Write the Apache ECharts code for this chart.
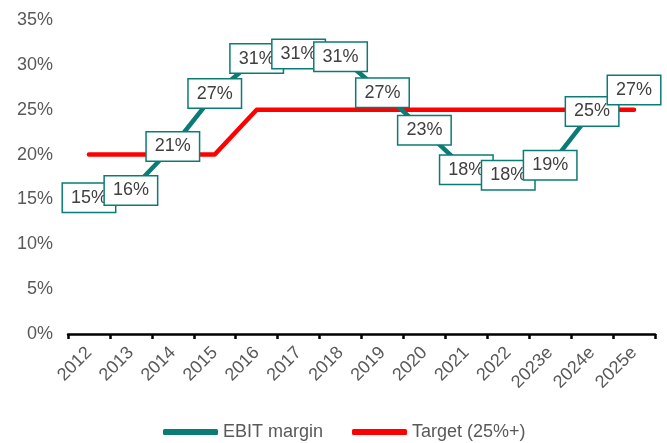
<!DOCTYPE html>
<html>
<head>
<meta charset="utf-8">
<script src="https://cdn.jsdelivr.net/npm/echarts@6/dist/echarts.min.js"></script>
<style>
  html, body { margin: 0; padding: 0; background: #fff; }
  #chart { width: 667px; height: 443px; }
</style>
</head>
<body>
<div id="chart"></div>
<script>
  const years = ['2012', '2013', '2014', '2015', '2016', '2017', '2018', '2019', '2020', '2021', '2022', '2023e', '2024e', '2025e']
  const ebitMargin = [15.2, 16.0, 20.9, 26.8, 30.7, 31.2, 30.9, 26.9, 22.7, 18.3, 17.7, 18.8, 24.8, 27.2]
  const target = [20, 20, 20, 20, 25, 25, 25, 25, 25, 25, 25, 25, 25, 25]
  const yTicks = [0, 5, 10, 15, 20, 25, 30, 35]

  const teal = '#0B7B76'
  const red = '#FF0000'
  const font = 'Liberation Sans, Arial, sans-serif'

  const myChart = echarts.init(document.getElementById('chart'))
  const option = {
    animation: false,
    grid: { left: 68, right: 12, top: 20, bottom: 109 },
    legend: {
      top: 418,
      left: 158,
      itemWidth: 55,
      itemHeight: 6,
      itemGap: 29,
      icon: 'roundRect',
      textStyle: { fontFamily: font, fontSize: 18, color: '#595959' },
      data: ['EBIT margin', 'Target (25%+)']
    },
    xAxis: {
      type: 'category',
      data: years,
      boundaryGap: true,
      axisLine: { lineStyle: { color: '#000', width: 2.5 } },
      axisTick: { show: true, length: 5, lineStyle: { color: '#000', width: 2.5 } },
      axisLabel: {
        rotate: 45,
        interval: 0,
        margin: 16,
        fontFamily: font,
        fontSize: 18,
        color: '#595959'
      }
    },
    yAxis: {
      type: 'value',
      min: yTicks[0],
      max: yTicks[yTicks.length - 1],
      interval: 5,
      splitLine: { show: false },
      axisLine: { show: false },
      axisTick: { show: false },
      axisLabel: {
        margin: 15,
        fontFamily: font,
        fontSize: 18,
        color: '#595959',
        formatter: '{value}%'
      }
    },
    series: [
      {
        name: 'Target (25%+)',
        type: 'line',
        data: target,
        z: 2,
        symbol: 'none',
        color: red,
        lineStyle: { color: red, width: 4.5, cap: 'round', join: 'round' }
      },
      {
        name: 'EBIT margin',
        type: 'line',
        data: ebitMargin,
        z: 3,
        symbol: 'circle',
        symbolSize: 0,
        showSymbol: true,
        color: teal,
        lineStyle: { color: teal, width: 4.5, join: 'round' },
        label: {
          show: true,
          position: 'inside',
          formatter: p => Math.round(p.value) + '%',
          fontFamily: font,
          fontSize: 18,
          color: '#404040',
          backgroundColor: '#fff',
          borderColor: teal,
          borderWidth: 1.5,
          padding: [6, 8, 4, 8]
        }
      }
    ]
  }
  myChart.setOption(option)
</script>
</body>
</html>
